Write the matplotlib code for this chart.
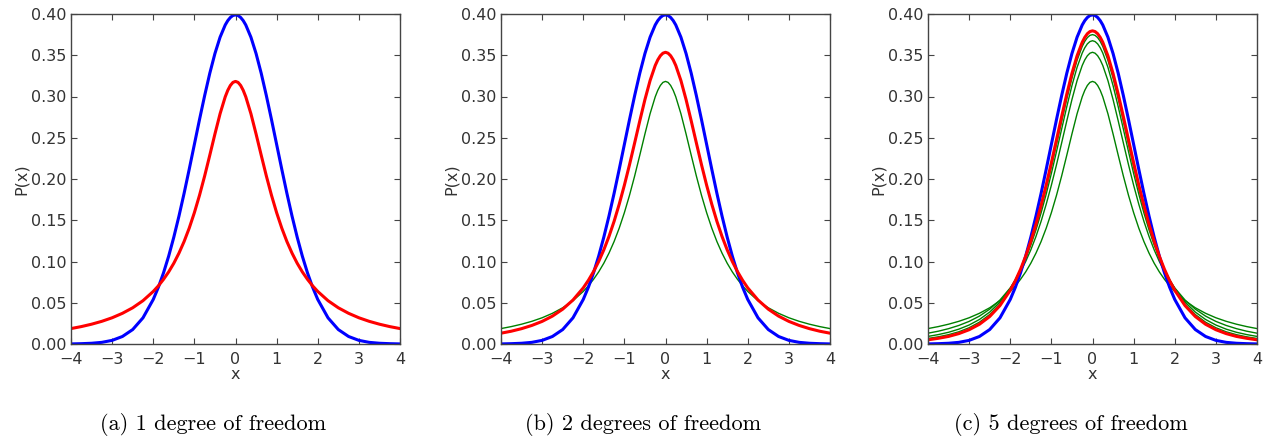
import matplotlib
matplotlib.use("Agg")
import matplotlib.pyplot as plt

# x grid shared by all curves (finer in the middle where the peaks are)
x = [-4.0, -3.75, -3.5, -3.25, -3.0, -2.75, -2.5, -2.25, -2.0,
     -1.875, -1.75, -1.625, -1.5, -1.375, -1.25, -1.125, -1.0, -0.875, -0.75, -0.625,
     -0.5, -0.375, -0.25, -0.1875, -0.125, -0.0625, 0.0, 0.0625, 0.125, 0.1875, 0.25, 0.375, 0.5,
     0.625, 0.75, 0.875, 1.0, 1.125, 1.25, 1.375, 1.5, 1.625, 1.75, 1.875,
     2.0, 2.25, 2.5, 2.75, 3.0, 3.25, 3.5, 3.75, 4.0]

normal = [0.0001, 0.0004, 0.0009, 0.0020, 0.0044, 0.0091, 0.0175, 0.0317, 0.0540,
          0.0688, 0.0863, 0.1065, 0.1295, 0.1550, 0.1826, 0.2119, 0.2420, 0.2721, 0.3011, 0.3282,
          0.3521, 0.3719, 0.3867, 0.3920, 0.3958, 0.3982, 0.3989, 0.3982, 0.3958, 0.3920, 0.3867, 0.3719, 0.3521,
          0.3282, 0.3011, 0.2721, 0.2420, 0.2119, 0.1826, 0.1550, 0.1295, 0.1065, 0.0863, 0.0688,
          0.0540, 0.0317, 0.0175, 0.0091, 0.0044, 0.0020, 0.0009, 0.0004, 0.0001]
t1 = [0.0187, 0.0211, 0.0240, 0.0275, 0.0318, 0.0372, 0.0439, 0.0525, 0.0637,
      0.0705, 0.0784, 0.0874, 0.0979, 0.1101, 0.1242, 0.1405, 0.1592, 0.1803, 0.2037, 0.2289,
      0.2546, 0.2791, 0.2996, 0.3075, 0.3134, 0.3171, 0.3183, 0.3171, 0.3134, 0.3075, 0.2996, 0.2791, 0.2546,
      0.2289, 0.2037, 0.1803, 0.1592, 0.1405, 0.1242, 0.1101, 0.0979, 0.0874, 0.0784, 0.0705,
      0.0637, 0.0525, 0.0439, 0.0372, 0.0318, 0.0275, 0.0240, 0.0211, 0.0187]
t2 = [0.0131, 0.0155, 0.0186, 0.0225, 0.0274, 0.0338, 0.0422, 0.0533, 0.0680,
      0.0772, 0.0878, 0.1000, 0.1141, 0.1303, 0.1487, 0.1695, 0.1925, 0.2174, 0.2438, 0.2705,
      0.2963, 0.3193, 0.3376, 0.3444, 0.3494, 0.3525, 0.3536, 0.3525, 0.3494, 0.3444, 0.3376, 0.3193, 0.2963,
      0.2705, 0.2438, 0.2174, 0.1925, 0.1695, 0.1487, 0.1303, 0.1141, 0.1000, 0.0878, 0.0772,
      0.0680, 0.0533, 0.0422, 0.0338, 0.0274, 0.0225, 0.0186, 0.0155, 0.0131]
t3 = [0.0092, 0.0114, 0.0142, 0.0180, 0.0230, 0.0297, 0.0387, 0.0509, 0.0675,
      0.0779, 0.0900, 0.1040, 0.1200, 0.1383, 0.1589, 0.1818, 0.2067, 0.2333, 0.2606, 0.2877,
      0.3132, 0.3354, 0.3527, 0.3591, 0.3638, 0.3666, 0.3676, 0.3666, 0.3638, 0.3591, 0.3527, 0.3354, 0.3132,
      0.2877, 0.2606, 0.2333, 0.2067, 0.1818, 0.1589, 0.1383, 0.1200, 0.1040, 0.0900, 0.0779,
      0.0675, 0.0509, 0.0387, 0.0297, 0.0230, 0.0180, 0.0142, 0.0114, 0.0092]
t4 = [0.0067, 0.0087, 0.0113, 0.0148, 0.0197, 0.0264, 0.0357, 0.0485, 0.0663,
      0.0775, 0.0905, 0.1056, 0.1229, 0.1425, 0.1644, 0.1886, 0.2147, 0.2420, 0.2699, 0.2971,
      0.3223, 0.3440, 0.3607, 0.3669, 0.3714, 0.3741, 0.3750, 0.3741, 0.3714, 0.3669, 0.3607, 0.3440, 0.3223,
      0.2971, 0.2699, 0.2420, 0.2147, 0.1886, 0.1644, 0.1425, 0.1229, 0.1056, 0.0905, 0.0775,
      0.0663, 0.0485, 0.0357, 0.0264, 0.0197, 0.0148, 0.0113, 0.0087, 0.0067]
t5 = [0.0051, 0.0069, 0.0092, 0.0126, 0.0173, 0.0239, 0.0333, 0.0466, 0.0651,
      0.0768, 0.0905, 0.1064, 0.1245, 0.1450, 0.1679, 0.1929, 0.2197, 0.2476, 0.2757, 0.3029,
      0.3279, 0.3493, 0.3657, 0.3717, 0.3761, 0.3787, 0.3796, 0.3787, 0.3761, 0.3717, 0.3657, 0.3493, 0.3279,
      0.3029, 0.2757, 0.2476, 0.2197, 0.1929, 0.1679, 0.1450, 0.1245, 0.1064, 0.0905, 0.0768,
      0.0651, 0.0466, 0.0333, 0.0239, 0.0173, 0.0126, 0.0092, 0.0069, 0.0051]

captions = ["(a) 1 degree of freedom", "(b) 2 degrees of freedom", "(c) 5 degrees of freedom"]
panel_green = [[], [t1], [t1, t2, t3, t4]]
panel_red = [t1, t2, t5]

xticks = [-4, -3, -2, -1, 0, 1, 2, 3, 4]
yticks = [0.00, 0.05, 0.10, 0.15, 0.20, 0.25, 0.30, 0.35, 0.40]

W, H = 1270, 438
fig = plt.figure(figsize=(W / 100, H / 100), dpi=100)
lefts = [71, 501, 928]
fs = 11.5
for i in range(3):
    ax = fig.add_axes([lefts[i] / W, 1 - 344 / H, 329 / W, 330 / H])
    for g in panel_green[i]:
        ax.plot(x, g, color='green', lw=1.0)
    ax.plot(x, normal, color='blue', lw=2.2)
    ax.plot(x, panel_red[i], color='red', lw=2.2)
    ax.set_xlim(-4, 4)
    ax.set_ylim(0, 0.4)
    ax.set_xticks(xticks)
    ax.set_yticks(yticks)
    ax.set_yticklabels(["%.2f" % v for v in yticks])
    ax.tick_params(direction='in', top=True, right=True, length=4, width=0.8,
                   labelsize=fs, color='#444444', labelcolor='#333333')
    ax.tick_params(axis='x', pad=6)
    ax.tick_params(axis='y', pad=3)
    for s in ax.spines.values():
        s.set_color('#444444')
        s.set_linewidth(1.0)
    ax.set_xlabel('x', fontsize=fs, color='#333333', labelpad=0)
    ax.set_ylabel('P(x)', fontsize=fs, color='#333333', labelpad=2)
    cx = (lefts[i] + 329 / 2 - 22) / W
    fig.text(cx, 1 - 425 / H, captions[i], ha='center', va='center',
             fontsize=16, family='cmr10')

fig.savefig('out.png', dpi=100)
